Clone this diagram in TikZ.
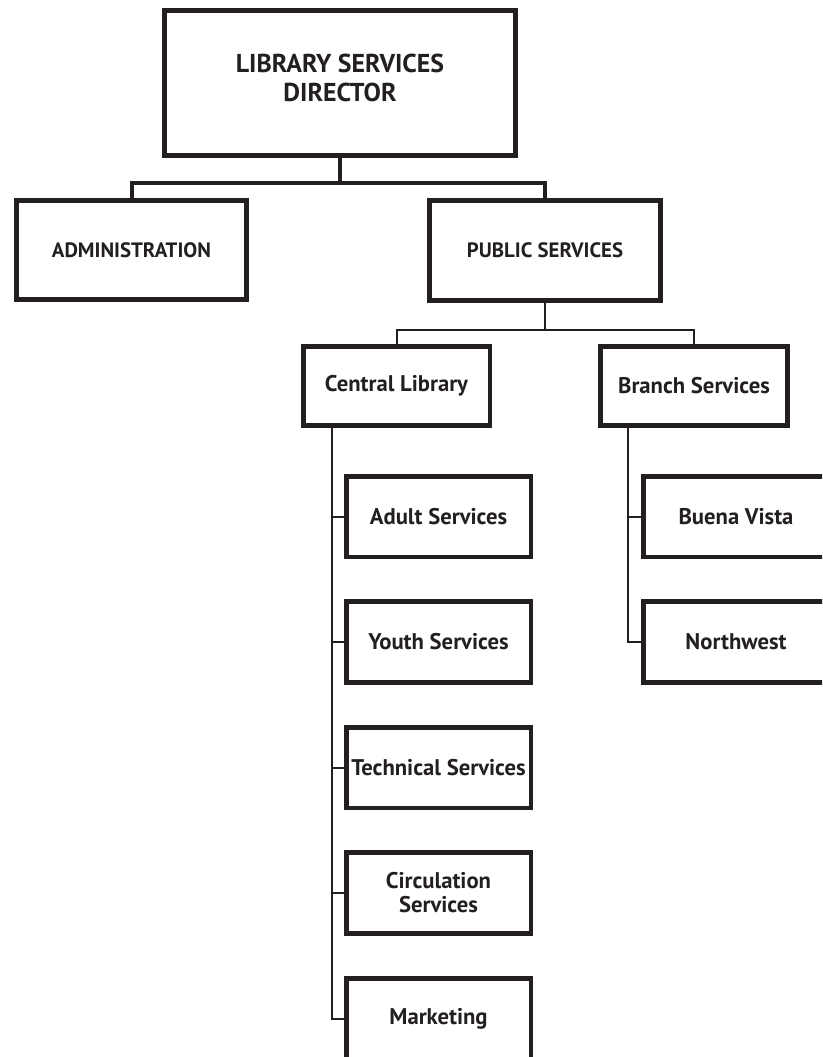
\documentclass[tikz,border=0pt]{standalone}
\usepackage{fontspec}
\setmainfont{PT Sans}
\begin{document}
\definecolor{ink}{HTML}{231F20}
\begin{tikzpicture}[x=0.75pt,y=-0.75pt,
  every node/.style={font=\bfseries, text=ink, align=center, inner sep=0pt},
  topbox/.style={draw=ink, line width=3.75pt, rectangle, line join=miter},
  subbox/.style={draw=ink, line width=3.4pt, rectangle, line join=miter},
  thickline/.style={draw=ink, line width=3pt, line join=miter},
  thinline/.style={draw=ink, line width=1.5pt, line join=miter},
  capsA/.style={font=\bfseries\fontsize{19.4}{21.4}\selectfont},
  capsB/.style={font=\bfseries\fontsize{15.6}{18}\selectfont},
  lower/.style={font=\bfseries\fontsize{17}{18}\selectfont},
  unitbox/.style={subbox, minimum width=138.4pt, minimum height=60.4pt}
]
\useasboundingbox (0,0) rectangle (822,1057);
\clip (0,0) rectangle (822,1057);

% top level
\node[topbox, minimum width=263.25pt, minimum height=108.75pt] (dir) at (340,83) {};
\node[capsA] (dirtext) at (340,78) {LIBRARY SERVICES\\DIRECTOR};

\node[topbox, capsB, minimum width=172.5pt, minimum height=74.25pt] (adm) at (131.5,250) {ADMINISTRATION};
\node[topbox, capsB, minimum width=173.25pt, minimum height=75pt] (pub) at (545,250.5) {PUBLIC SERVICES};

% second level
\node[subbox, lower, minimum width=139.9pt, minimum height=59.6pt] (cen) at (396.5,386) {Central Library};
\node[subbox, lower, minimum width=140.6pt, minimum height=59.6pt] (bra) at (694,386) {Branch Services};

% units under Central Library
\node[unitbox, lower] (adu) at (438.5,516.5) {Adult Services};
\node[unitbox, lower] (you) at (438.5,642) {Youth Services};
\node[unitbox, lower] (tec) at (438.5,767.5) {Technical Services};
\node[unitbox, lower] (cir) at (438.5,893) {Circulation\\Services};
\node[unitbox, lower] (mkt) at (438.5,1018.5) {Marketing};

% units under Branch Services
\node[unitbox, lower] (bv) at (736,516.5) {Buena Vista};
\node[unitbox, lower] (nw) at (736,642) {Northwest};

% connector helpers
\coordinate (bus1) at (0,183);
\coordinate (bus2) at (0,330);
\coordinate (cspine) at (332,0);
\coordinate (bspine) at (628,0);

% director to divisions
\draw[thickline] (dir.south) -- (dir.south |- bus1);
\draw[thickline] (adm.north) -- (adm.north |- bus1) -- (pub.north |- bus1) -- (pub.north);

% public services to its two branches
\draw[thinline] (pub.south) -- (pub.south |- bus2);
\draw[thinline] (cen.north) -- (cen.north |- bus2) -- (bra.north |- bus2) -- (bra.north);

% central library spine
\draw[thinline] (cen.south -| cspine) -- (cspine |- mkt.west) -- (mkt.west);
\draw[thinline] (cspine |- adu.west) -- (adu.west);
\draw[thinline] (cspine |- you.west) -- (you.west);
\draw[thinline] (cspine |- tec.west) -- (tec.west);
\draw[thinline] (cspine |- cir.west) -- (cir.west);

% branch services spine
\draw[thinline] (bra.south -| bspine) -- (bspine |- nw.west) -- (nw.west);
\draw[thinline] (bspine |- bv.west) -- (bv.west);
\end{tikzpicture}
\end{document}
